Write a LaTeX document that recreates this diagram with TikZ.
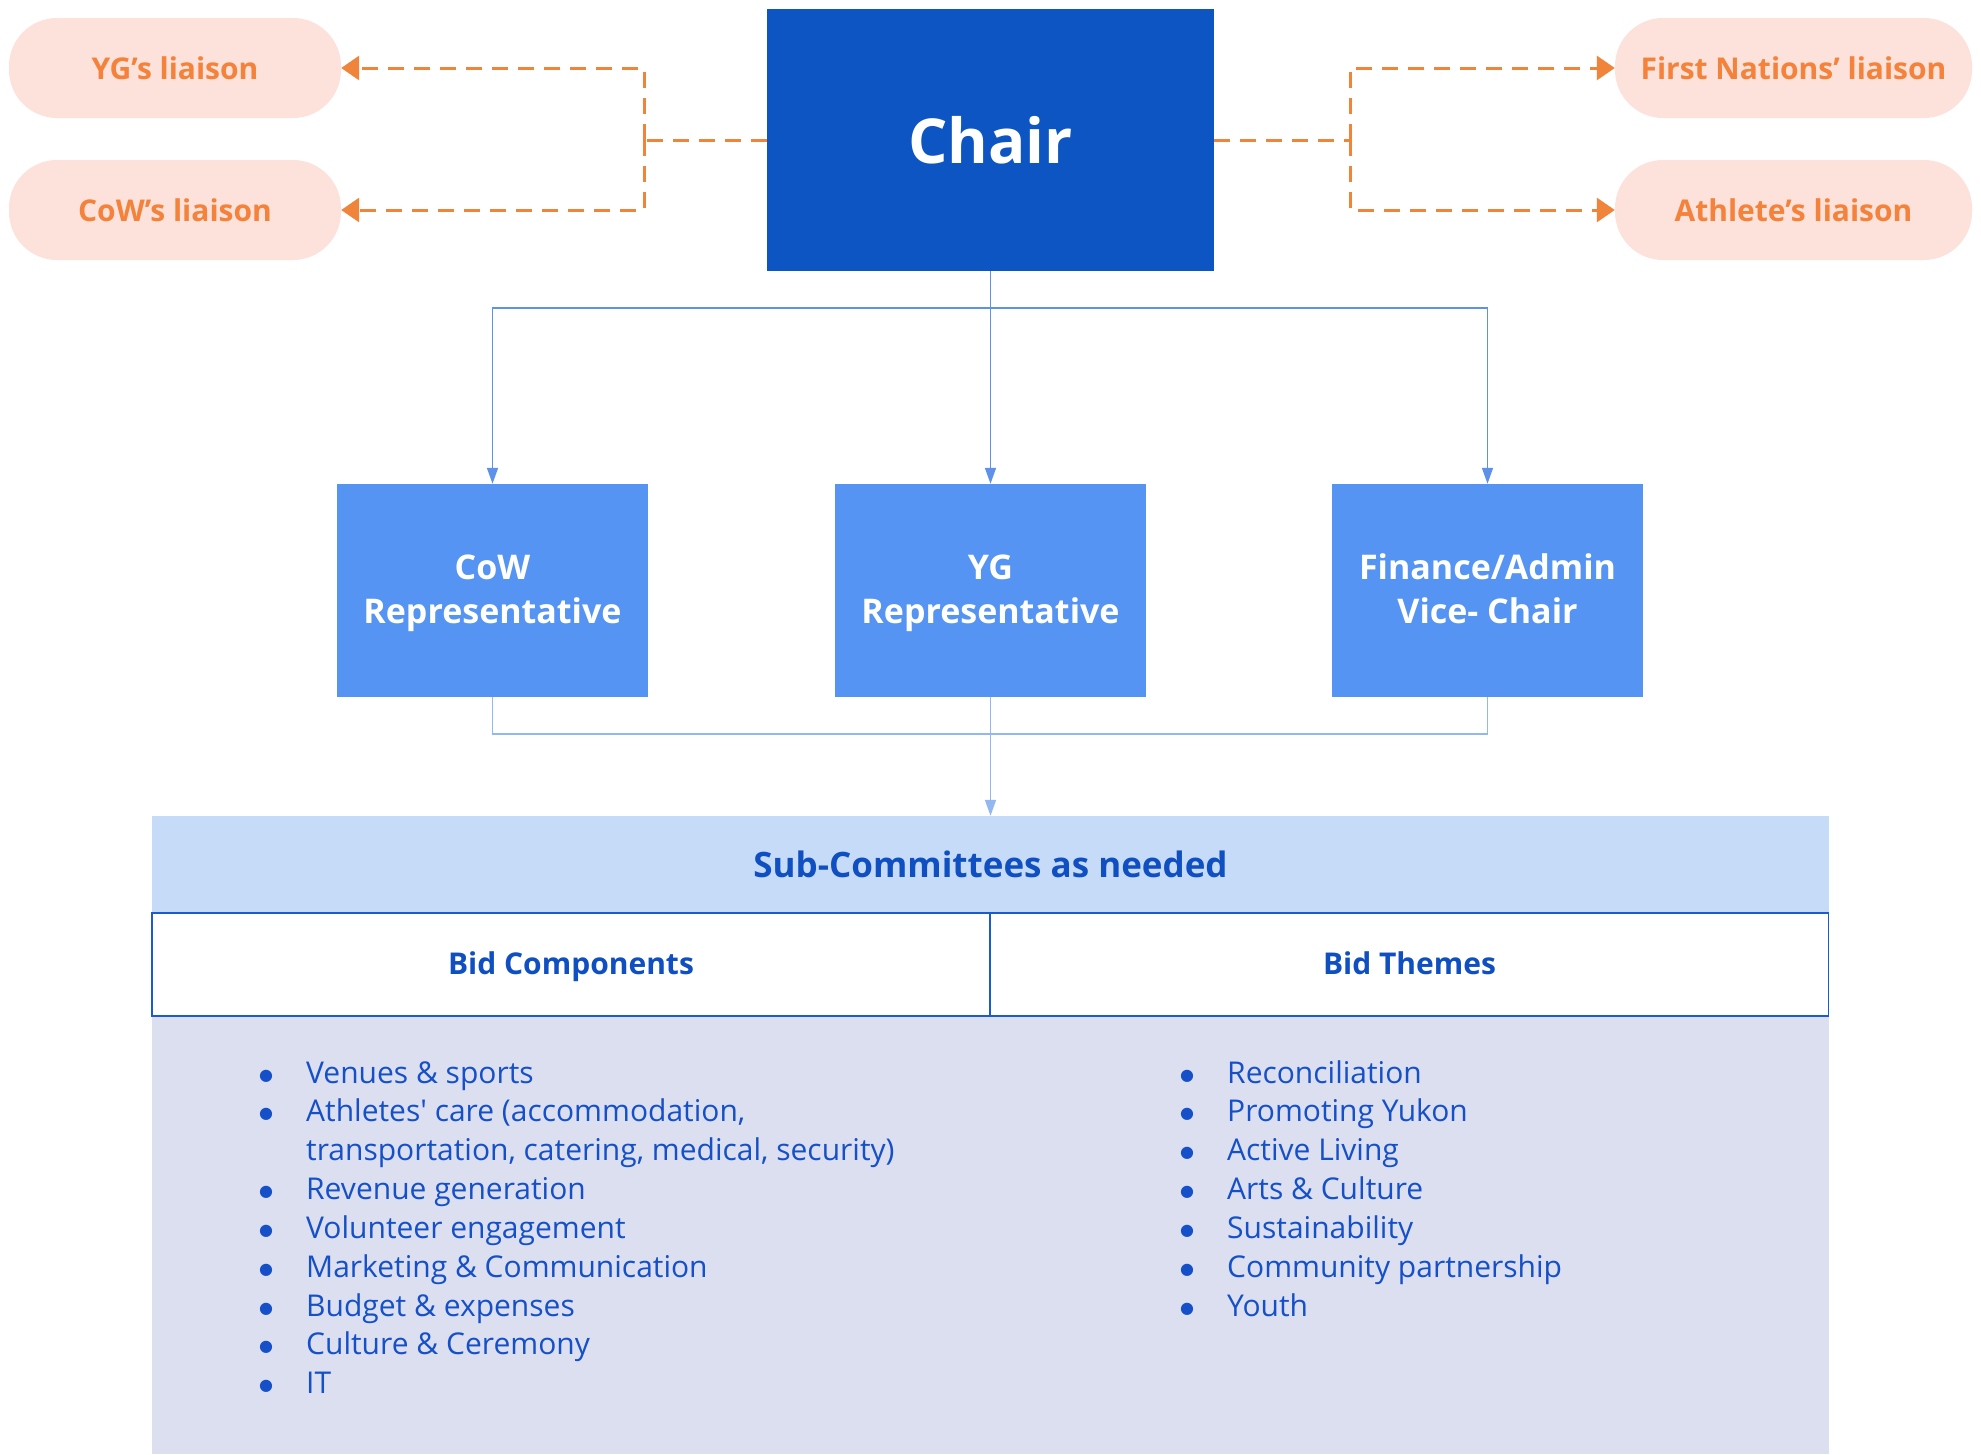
\documentclass[tikz,border=0pt]{standalone}
\usepackage{fontspec}
\setmainfont{Open Sans}
\newfontfamily\symfont{DejaVu Sans}
\usetikzlibrary{arrows.meta}
\definecolor{chairblue}{HTML}{0E55C4}
\definecolor{repblue}{HTML}{5594F2}
\definecolor{pillfill}{HTML}{FDE2DC}
\definecolor{orangetxt}{HTML}{F4823A}
\definecolor{orangeln}{HTML}{F0843A}
\definecolor{linkblue}{HTML}{5E92EA}
\definecolor{linklight}{HTML}{93B7F0}
\definecolor{subfill}{HTML}{C6DBF8}
\definecolor{darkblue}{HTML}{0F4FC2}
\definecolor{rowline}{HTML}{1A5BD3}
\definecolor{listfill}{HTML}{DBDFF0}
\definecolor{listtxt}{HTML}{1550C8}
\newcommand\mybullet{\makebox[51pt][l]{\hspace{4pt}\raisebox{3pt}{\symfont\fontsize{16}{16}\selectfont ●}}}
\newcommand\firstline{\rule{0pt}{35.8pt}}
\begin{document}
\begin{tikzpicture}[x=1pt,y=-1pt,
  pill/.style={rounded corners=48pt, fill=pillfill, minimum height=100pt, inner sep=0pt,
     text=orangetxt, font=\fontsize{30}{36}\selectfont\bfseries},
  rep/.style={fill=repblue, minimum width=311pt, minimum height=213pt, inner sep=0pt,
     text=white, align=center, font=\fontsize{34}{44}\selectfont\bfseries},
  dashln/.style={draw=orangeln, line width=3pt, dash pattern=on 16pt off 10pt},
  dasharr/.style={dashln, -{Triangle[length=18pt,width=24pt]}},
  link/.style={draw=linkblue, line width=1.6pt},
  linkarr/.style={link, -{Triangle[length=16pt,width=11pt]}},
  linkb/.style={draw=linklight, line width=1.6pt},
  cell/.style={draw=rowline, line width=1.6pt, fill=white, minimum width=838pt, minimum height=103pt,
     inner sep=0pt, text height=24pt, text depth=4pt, text=darkblue, font=\fontsize{30}{36}\selectfont\bfseries},
  item/.style={anchor=base west, inner sep=0pt, text height=22pt, text depth=7pt,
     text=listtxt, font=\fontsize{30}{36}\selectfont}
]
\useasboundingbox (0,0) rectangle (1981,1454);
\fill[white] (0,0) rectangle (1981,1454);

% chair
\node[fill=chairblue, minimum width=447pt, minimum height=262pt, inner sep=0pt, text=white,
  font=\fontsize{62}{70}\selectfont\bfseries] (chair) at (990.5,140) {Chair};

% liaison pills
\node[pill, minimum width=332pt] (ygl) at (175,68) {YG’s liaison};
\node[pill, minimum width=332pt] (cowl) at (175,210) {CoW’s liaison};
\node[pill, minimum width=357pt] (fnl) at (1793.5,68) {First Nations’ liaison};
\node[pill, minimum width=357pt] (athl) at (1793.5,210) {Athlete’s liaison};

\coordinate (lj) at (644,140);
\coordinate (rj) at (1350,140);
\draw[dashln] (chair.west) -- (lj);
\draw[dasharr] (lj) |- (ygl.east);
\draw[dasharr] (lj) |- (cowl.east);
\draw[dashln] (chair.east) -- (rj);
\draw[dasharr] (rj) |- (fnl.west);
\draw[dasharr] (rj) |- (athl.west);

% representatives
\node[rep] (cow) at (492.5,590.5) {\firstline CoW\\\strut Representative};
\node[rep] (yg) at (990.5,590.5) {\firstline YG\\\strut Representative};
\node[rep] (fin) at (1487.5,590.5) {\firstline Finance/Admin\\\strut Vice- Chair};

\coordinate (top) at (990.5,308);
\draw[linkarr] (chair.south) -- (yg.north);
\draw[linkarr] (top) -| (cow.north);
\draw[linkarr] (top) -| (fin.north);

% list background
\node[fill=listfill, minimum width=1677pt, minimum height=438pt, inner sep=0pt] (listbg) at (990.5,1235) {};

% sub-committee header
\node[fill=subfill, minimum width=1677pt, minimum height=97pt, inner sep=0pt, text=darkblue,
  font=\fontsize{35}{40}\selectfont\bfseries] (sub) at (990.5,864.5) {Sub-Committees as needed};
\node[cell] (bc) at (571,964.5) {Bid Components};
\node[cell] (bt) at (1409.5,964.5) {Bid Themes};

\coordinate (bot) at (990.5,734);
\draw[linkb] (cow.south) |- (bot);
\draw[linkb] (fin.south) |- (bot);
\draw[linkb, -{Triangle[length=16pt,width=11pt]}] (yg.south) -- (sub.north);

% left list
\node[item] (l1) at (255,1083) {\mybullet Venues \& sports};
\node[item] (l2) at (255,1121.85) {\mybullet Athletes\textquotesingle\ care (accommodation,};
\node[item] (l3) at (306,1160.7) {transportation, catering, medical, security)};
\node[item] (l4) at (255,1199.55) {\mybullet Revenue generation};
\node[item] (l5) at (255,1238.4) {\mybullet Volunteer engagement};
\node[item] (l6) at (255,1277.25) {\mybullet Marketing \& Communication};
\node[item] (l7) at (255,1316.1) {\mybullet Budget \& expenses};
\node[item] (l8) at (255,1354.95) {\mybullet Culture \& Ceremony};
\node[item] (l9) at (255,1393.8) {\mybullet IT};

% right list
\node[item] (r1) at (1176,1083) {\mybullet Reconciliation};
\node[item] (r2) at (1176,1121.85) {\mybullet Promoting Yukon};
\node[item] (r3) at (1176,1160.7) {\mybullet Active Living};
\node[item] (r4) at (1176,1199.55) {\mybullet Arts \& Culture};
\node[item] (r5) at (1176,1238.4) {\mybullet Sustainability};
\node[item] (r6) at (1176,1277.25) {\mybullet Community partnership};
\node[item] (r7) at (1176,1316.1) {\mybullet Youth};
\end{tikzpicture}
\end{document}
